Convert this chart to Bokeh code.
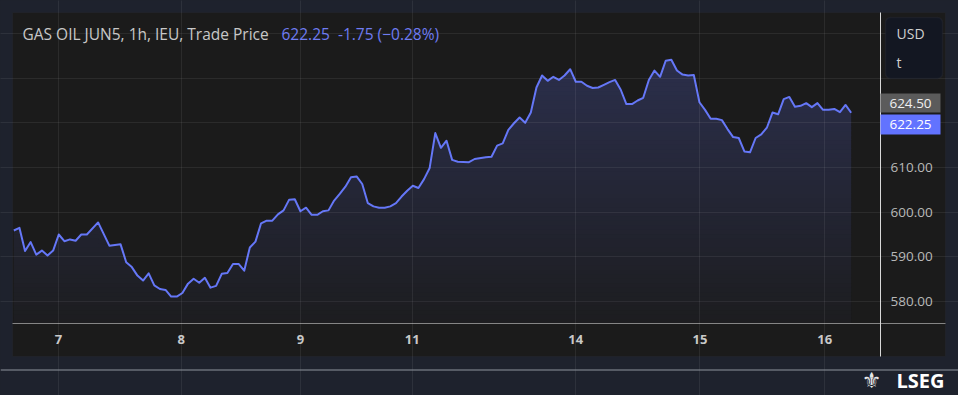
import numpy as np
from bokeh.plotting import figure
from bokeh.models import (Range1d, FixedTicker, BoxAnnotation, Label,
                          GlobalInlineStyleSheet, NumeralTickFormatter)
from bokeh.embed import file_html
from bokeh.resources import INLINE

# ---- data (hour index on the session axis, trade price) ----
hour_index = [0, 1, 2, 3, 4, 5, 6, 7, 8, 9, 10, 11, 12, 13, 15, 17, 19, 20, 21, 22,
              23, 24, 25, 26, 27, 28, 29, 30, 31, 32, 33, 34, 35, 36, 37, 38, 39, 40, 41, 42,
              43, 44, 45, 46, 47, 48, 49, 50, 51, 52, 53, 54, 55, 56, 57, 58, 59, 60, 61, 62,
              63, 64, 65, 66, 67, 68, 69, 70, 71, 72, 73, 74, 75, 76, 77, 78, 79, 81, 82, 84,
              85, 86, 87, 88, 89, 90, 91, 92, 93, 94, 95, 96, 97, 98, 99, 100, 101, 102, 103, 104,
              105, 106, 107, 108, 109, 110, 111, 112, 113, 114, 115, 116, 117, 118, 119, 120, 121, 122, 123, 124,
              125, 126, 127, 128, 129, 130, 131, 132, 133, 134, 135, 136, 137, 138, 139, 140, 141, 142, 143, 144,
              145, 146, 147, 148, 149]
price = [595.9, 596.5, 591.3, 593.3, 590.5, 591.4, 590.3, 591.4, 595.0, 593.5, 593.9, 593.6, 595.0, 595.0, 597.7, 592.5, 592.8, 588.8, 587.7, 585.8,
         584.7, 586.3, 583.6, 582.8, 582.6, 581.1, 581.1, 581.9, 584.0, 585.1, 584.2, 585.3, 583.1, 583.5, 586.2, 586.4, 588.4, 588.4, 586.9, 592.1,
         593.4, 597.5, 598.1, 598.1, 599.5, 600.4, 602.8, 602.9, 600.2, 601.0, 599.4, 599.4, 600.2, 600.4, 602.6, 604.1, 605.7, 607.8, 608.0, 606.3,
         602.0, 601.3, 601.0, 601.0, 601.3, 602.0, 603.5, 604.8, 605.9, 605.4, 607.4, 609.9, 617.7, 614.4, 616.0, 611.7, 611.3, 611.2, 611.9, 612.3,
         612.4, 614.9, 615.4, 618.4, 619.9, 621.2, 620.0, 622.3, 627.9, 630.6, 629.4, 630.3, 629.6, 630.6, 632.0, 629.2, 629.2, 628.3, 627.8, 627.9,
         628.5, 629.1, 629.6, 627.4, 624.2, 624.2, 625.0, 625.6, 629.6, 631.7, 630.3, 633.9, 634.1, 631.7, 630.8, 630.6, 630.7, 624.6, 622.9, 620.9,
         620.9, 620.6, 618.6, 616.8, 616.6, 613.6, 613.4, 616.6, 617.4, 618.9, 622.3, 621.9, 625.3, 625.8, 623.6, 623.8, 624.4, 623.5, 624.4, 622.9,
         622.9, 623.1, 622.4, 624.0, 622.25]

day_tick_pos = [7.95, 29.8, 51.0, 70.9, 100.0, 122.1, 144.3]
day_tick_labels = ["7", "8", "9", "11", "14", "15", "16"]
price_ticks = [580, 590, 600, 610, 620, 630, 640]
prev_close = 624.50
last_price = 622.25
change = -1.75
change_pct = -0.28

title_text = "GAS OIL JUN5, 1h, IEU, Trade Price"
currency = "USD"
unit = "t"
brand = "LSEG"

# ---- view extents (data units) ----
X_VIEW = (-2.367, 168.1)      # whole canvas, horizontally
Y_VIEW = (558.96, 647.38)     # whole canvas, vertically
PLOT_X = (-0.231, 154.22)     # plotting pane (left edge .. price-scale line)
PANEL_X_END = 165.79          # right end of the time axis line
PLOT_Y = (575.07, 644.70)     # plotting pane (time axis .. top)
PANEL_Y_BOTTOM = 567.69       # bottom of the dark panel

NAVY = "#1e222d"
PANEL = "#1b1b1b"
LINE = "#6577f7"
FONT = "Open Sans"

x = np.array(hour_index, dtype=float)
y = np.array(price, dtype=float)

p = figure(width=958, height=395, output_backend="svg", toolbar_location=None,
           x_range=Range1d(*X_VIEW), y_range=Range1d(*Y_VIEW),
           y_axis_location="right", min_border=0)
p.background_fill_color = NAVY
p.border_fill_color = NAVY
p.outline_line_color = None
p.stylesheets = [GlobalInlineStyleSheet(css="html, body { background-color: %s; }" % NAVY)]


def cbox(l, r, t, b, **kw):
    return BoxAnnotation(left=l, right=r, top=t, bottom=b,
                         left_units="canvas", right_units="canvas",
                         top_units="canvas", bottom_units="canvas", **kw)


# dark chart panel
p.add_layout(cbox(12, 945, 12, 356, fill_color=PANEL, fill_alpha=1,
                  line_color="#2a2e39", line_width=1, level="image"))

# gradient area fill: opaque bands blended from panel colour to the line colour
panel_rgb = np.array([27, 27, 27], dtype=float)
blue_rgb = np.array([101, 117, 247], dtype=float)
levels = np.arange(PLOT_Y[0], y.max() + 1.0, 1.0)
for lo in levels:
    a = float(np.clip(0.02 + (lo + 0.5 - 575.0) * 0.0034, 0.0, 0.25))
    c = panel_rgb * (1 - a) + blue_rgb * a
    col = "#%02x%02x%02x" % tuple(int(round(v)) for v in c)
    p.varea(x=x, y1=np.minimum(y, lo), y2=np.minimum(y, lo + 1.3), fill_color=col, fill_alpha=1)

p.line(x, y, line_color=LINE, line_width=2, line_join="round")

# grids
p.xgrid.ticker = FixedTicker(ticks=day_tick_pos)
p.ygrid.ticker = FixedTicker(ticks=price_ticks)
p.xgrid.bounds = PLOT_Y
p.ygrid.bounds = PLOT_X
p.grid.grid_line_color = "#ffffff"
p.grid.grid_line_alpha = 0.07
p.grid.grid_line_width = 1
p.grid.level = "annotation"

# x axis
xa = p.xaxis[0]
xa.fixed_location = PLOT_Y[0]
xa.bounds = (PLOT_X[0], PANEL_X_END)
xa.ticker = FixedTicker(ticks=day_tick_pos)
xa.major_label_overrides = {v: s for v, s in zip(day_tick_pos, day_tick_labels)}
xa.major_tick_line_color = None
xa.minor_tick_line_color = None
xa.major_tick_out = 0
xa.major_tick_in = 0
xa.minor_tick_out = 0
xa.axis_line_color = "#858585"
xa.axis_line_width = 1
xa.major_label_text_color = "#c8c8c8"
xa.major_label_text_font = FONT
xa.major_label_text_font_style = "bold"
xa.major_label_text_font_size = "13px"
xa.major_label_standoff = 11

# y axis (right)
ya = p.yaxis[0]
ya.fixed_location = PLOT_X[1]
ya.bounds = (PANEL_Y_BOTTOM, PLOT_Y[1])
ya.ticker = FixedTicker(ticks=price_ticks)
ya.formatter = NumeralTickFormatter(format="0.00")
ya.major_label_overrides = {620: "", 630: "", 640: ""}
ya.major_tick_line_color = None
ya.minor_tick_line_color = None
ya.major_tick_out = 0
ya.major_tick_in = 0
ya.minor_tick_out = 0
ya.axis_line_color = "#d8d8d8"
ya.axis_line_width = 1
ya.major_label_text_color = "#b8b8b8"
ya.major_label_text_font = FONT
ya.major_label_text_font_size = "13.5px"
ya.major_label_standoff = 10
ya.major_label_text_align = "left"

# title
p.add_layout(Label(x=22, y=33, x_units="canvas", y_units="canvas", text=title_text,
                   text_font=FONT, text_font_size="15.5px", text_color="#c8c8c8",
                   text_baseline="middle", level="overlay"))
p.add_layout(Label(x=281, y=33, x_units="canvas", y_units="canvas",
                   text="%.2f\u00a0\u00a0%.2f (\u2212%.2f%%)" % (last_price, change, abs(change_pct)),
                   text_font=FONT, text_font_size="15.5px", text_color="#6f7cf2",
                   text_baseline="middle", level="overlay"))

# currency box
p.add_layout(cbox(885, 942, 17, 78, fill_color="#131722", fill_alpha=1,
                  line_color="#2e3240", line_width=1.5, border_radius=5, level="overlay"))
p.add_layout(Label(x=896, y=33, x_units="canvas", y_units="canvas", text=currency,
                   text_font=FONT, text_font_size="14px", text_color="#d0d0d0",
                   text_baseline="middle", level="overlay"))
p.add_layout(Label(x=896, y=62, x_units="canvas", y_units="canvas", text=unit,
                   text_font=FONT, text_font_size="14px", text_color="#d0d0d0",
                   text_baseline="middle", level="overlay"))

# price labels on the scale (previous close, last price)
p.add_layout(cbox(880, 940, 93, 112, fill_color="#5b5b5b", fill_alpha=1, line_color=None,
                  level="overlay"))
p.add_layout(cbox(880, 940, 114, 134, fill_color="#6273ff", fill_alpha=1, line_color=None,
                  level="overlay"))
p.add_layout(Label(x=910, y=102.5, x_units="canvas", y_units="canvas", text="%.2f" % prev_close,
                   text_font=FONT, text_font_size="13.5px", text_color="#f0f0f0",
                   text_baseline="middle", text_align="center", level="overlay"))
p.add_layout(Label(x=910, y=124, x_units="canvas", y_units="canvas", text="%.2f" % last_price,
                   text_font=FONT, text_font_size="13.5px", text_color="#ffffff",
                   text_baseline="middle", text_align="center", level="overlay"))

# footer separator and brand
p.add_layout(cbox(0, 958, 369, 370, fill_color="#8e939d", fill_alpha=1, line_color=None,
                  level="overlay"))
p.add_layout(Label(x=871, y=380, x_units="canvas", y_units="canvas", text="\u269c",
                   text_font="DejaVu Sans", text_font_size="22px",
                   text_color="#e8e8e8", text_baseline="middle", text_align="center", level="overlay"))
p.add_layout(Label(x=896, y=380, x_units="canvas", y_units="canvas", text=brand,
                   text_font=FONT, text_font_size="20px", text_font_style="bold",
                   text_color="#ffffff", text_baseline="middle", level="overlay"))

open("out.html", "w").write(file_html(p, INLINE))
